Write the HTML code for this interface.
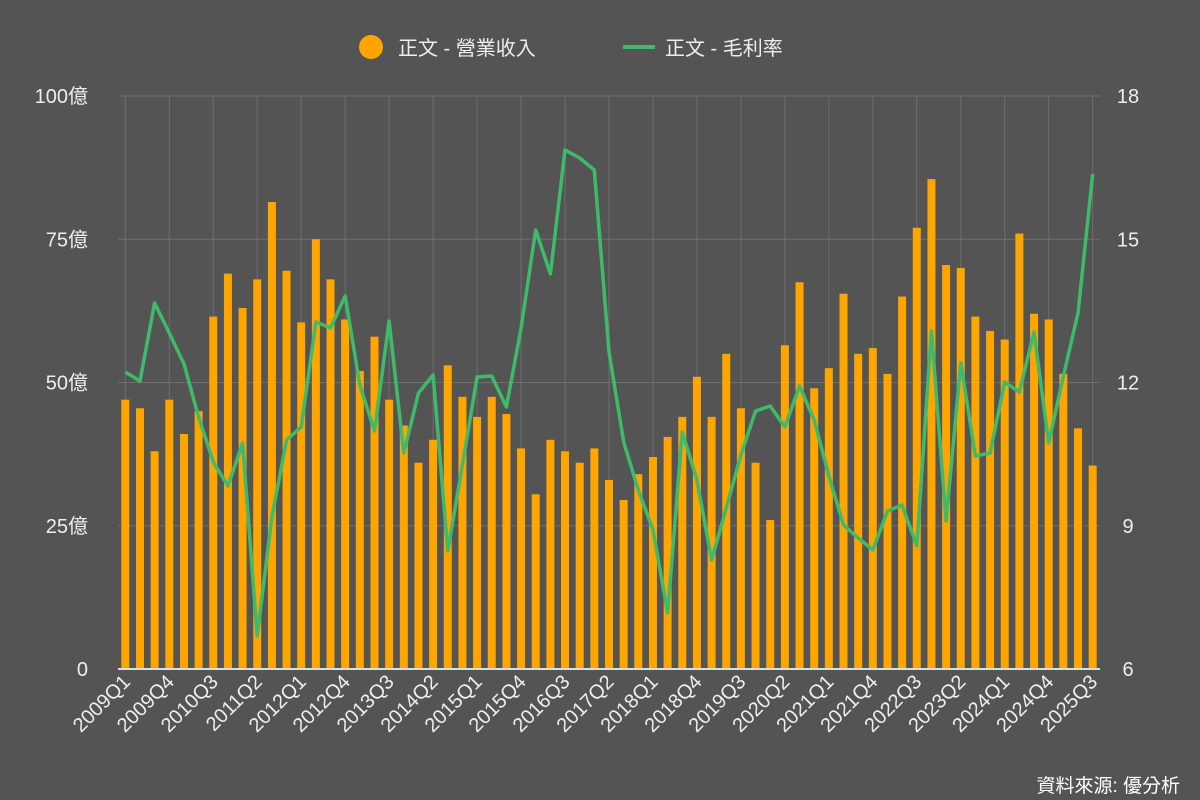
<!DOCTYPE html>
<html><head><meta charset="utf-8"><style>
html,body{margin:0;padding:0;background:#545454;}
svg{display:block;font-family:"Liberation Sans","Noto Sans CJK TC",sans-serif;}
</style></head><body>
<svg id="c" width="1200" height="800" xmlns="http://www.w3.org/2000/svg">
<rect width="1200" height="800" fill="#545454"/>
<g id="grid"></g><g id="bars"></g><g id="line"></g><g id="labels"></g>
<circle cx="371" cy="47" r="12" fill="#FFA500"/>
<text x="398" y="55" font-size="20" fill="#eeeeee">正文 - 營業收入</text>
<line x1="623" y1="47" x2="655" y2="47" stroke="#3dbb6b" stroke-width="4"/>
<text x="665" y="55" font-size="20" fill="#eeeeee">正文 - 毛利率</text>
<text x="1180" y="792" font-size="19" fill="#ffffff" text-anchor="end">資料來源: 優分析</text>
</svg>
<script>
var rev=[47,45.5,38,47,41,45,61.5,69,63,68,81.5,69.5,60.5,75,68,61,52,58,47,42.5,36,40,53,47.5,44,47.5,44.5,38.5,30.5,40,38,36,38.5,33,29.5,34,37,40.5,44,51,44,55,45.5,36,26,56.5,67.5,49,52.5,65.5,55,56,51.5,65,77,85.5,70.5,70,61.5,59,57.5,76,62,61,51.5,42,35.5];
var ly=[372,381,303,333,364,417,462,486,443,636,517,440,427,322,328,296,385,431,321,453,393,375,551,465,377,376,407,328,230,274,150,158,170,352,442,490,530,613,432,480,560,508,455,411,406,427,386,420,476,525,538,550,511,505,546,331,521,363,456,453,382,392,332,443,376,313,174];
var ns="http://www.w3.org/2000/svg";
function el(t,a,p){var e=document.createElementNS(ns,t);for(var k in a)e.setAttribute(k,a[k]);document.getElementById(p).appendChild(e);return e;}
var x0=118,x1=1100,y0=96,yb=669,n=67,w=(x1-x0)/n;
function cx(i){return x0+w*(i+0.5);}
var lv=["0","25億","50億","75億","100億"],rv=["6","9","12","15","18"];
for(var j=0;j<5;j++){var y=yb-j*(yb-y0)/4;
 if(j>0)el("line",{x1:x0,x2:x1,y1:y,y2:y,stroke:"#6e6e6e","stroke-width":1},"grid");
 var t=el("text",{x:88,y:y+7,"font-size":20,fill:"#eeeeee","text-anchor":"end"},"labels");t.textContent=lv[j];
 t=el("text",{x:1128,y:y+7,"font-size":20,fill:"#eeeeee","text-anchor":"middle"},"labels");t.textContent=rv[j];}
for(var i=0;i<n;i+=3){var x=cx(i);el("line",{x1:x,x2:x,y1:y0,y2:yb,stroke:"#6e6e6e","stroke-width":1},"grid");
 var yr=2009+Math.floor(i/4),q=i%4+1;
 var t=el("text",{x:0,y:0,"font-size":20,fill:"#eeeeee","text-anchor":"end",transform:"translate("+(x+6)+",683) rotate(-45)"},"labels");t.textContent=yr+"Q"+q;}
for(var i=0;i<n;i++){var h=rev[i]*(yb-y0)/100;el("rect",{x:cx(i)-4,y:yb-h,width:8,height:h,fill:"#FFA500"},"bars");}
el("line",{x1:x0,x2:x1,y1:yb,y2:yb,stroke:"#dddddd","stroke-width":2},"bars");
var p="";for(var i=0;i<n;i++)p+=(i?"L":"M")+cx(i).toFixed(1)+","+ly[i];
el("path",{d:p,fill:"none",stroke:"#3dbb6b","stroke-width":3.5,"stroke-linejoin":"round"},"line");
</script>
</body></html>
